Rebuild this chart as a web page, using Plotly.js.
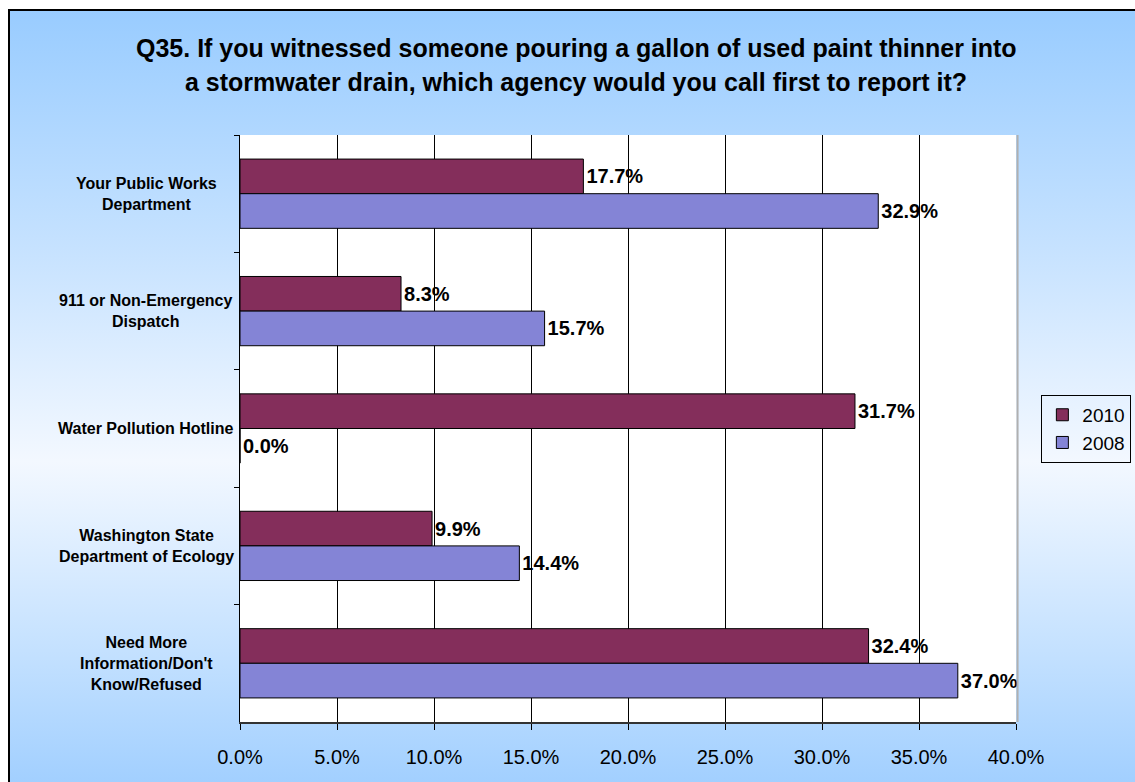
<!DOCTYPE html>
<html>
<head>
<meta charset="utf-8">
<script src="https://cdn.plot.ly/plotly-3.0.1.min.js"></script>
<style>
  html, body { margin: 0; padding: 0; background: #ffffff; }
  #wrap { position: relative; width: 1135px; height: 782px; overflow: hidden; }
  #frame {
    position: absolute; left: 8px; top: 9px; width: 1140px; height: 790px;
    border-left: 2px solid #000; border-top: 2px solid #000;
    background: linear-gradient(to bottom, #99ccff 0%, #c6e2ff 30%, #f3f8ff 57%, #c6e2ff 80%, #9dcdff 100%);
  }
  #chart { position: absolute; left: 0; top: 0; width: 1135px; height: 782px; }
</style>
</head>
<body>
<div id="wrap">
  <div id="frame"></div>
  <div id="chart"></div>
</div>
<script>
const titleLines = [
  "Q35. If you witnessed someone pouring a gallon of used paint thinner into",
  "a stormwater drain, which agency would you call first to report it?"
];
const categories = [
  "Your Public Works Department",
  "911 or Non-Emergency Dispatch",
  "Water Pollution Hotline",
  "Washington State Department of Ecology",
  "Need More Information/Don't Know/Refused"
];
const categoryLabels = [
  "Your Public Works<br>Department",
  "911 or Non-Emergency<br>Dispatch",
  "Water Pollution Hotline",
  "Washington State<br>Department of Ecology",
  "Need More<br>Information/Don't<br>Know/Refused"
];
const seriesNames = ["2010", "2008"];
const values2010 = [17.7, 8.3, 31.7, 9.9, 32.4];
const values2008 = [32.9, 15.7, 0.0, 14.4, 37.0];
const xTickValues = [0, 5, 10, 15, 20, 25, 30, 35, 40];

const FONT = 'Arial, "Liberation Sans", sans-serif';

const traces = [
  {
    type: "bar", orientation: "h", name: seriesNames[0],
    x: values2010, y: categories,
    marker: { color: "#842e5b", line: { color: "#000000", width: 1 } },
    text: values2010.map(v => v.toFixed(1) + "%"),
    textposition: "outside", cliponaxis: false, constraintext: "none",
    textfont: { family: FONT, size: 20, color: "#000000", weight: "bold" },
    hoverinfo: "x+y"
  },
  {
    type: "bar", orientation: "h", name: seriesNames[1],
    x: values2008, y: categories,
    marker: { color: "#8484d6", line: { color: "#000000", width: 1 } },
    text: values2008.map(v => v.toFixed(1) + "%"),
    textposition: "outside", cliponaxis: false, constraintext: "none",
    textfont: { family: FONT, size: 20, color: "#000000", weight: "bold" },
    hoverinfo: "x+y"
  }
];

const annotations = [];
titleLines.forEach((t, i) => {
  annotations.push({
    text: "<b>" + t + "</b>", xref: "paper", yref: "paper",
    x: 0.4335, y: i === 0 ? 1.148 : 1.090, xanchor: "center", yanchor: "middle",
    showarrow: false, font: { family: FONT, size: 25, color: "#000000" }
  });
});
categories.forEach((c, i) => {
  annotations.push({
    text: "<b>" + categoryLabels[i] + "</b>", xref: "paper", yref: "y",
    x: -0.121, y: c, xanchor: "center", yanchor: "middle", align: "center",
    showarrow: false, font: { family: FONT, size: 16, color: "#000000" }
  });
});

const layout = {
  width: 1135, height: 782,
  paper_bgcolor: "rgba(0,0,0,0)", plot_bgcolor: "#ffffff",
  margin: { l: 240, r: 119, t: 135, b: 60 },
  font: { family: FONT, color: "#000000" },
  barmode: "group", bargap: 0.41, bargroupgap: 0,
  showlegend: true,
  legend: {
    xref: "container", yref: "container",
    x: 0.9175, y: 0.495, xanchor: "left", yanchor: "top",
    bgcolor: "rgba(255,255,255,0)", bordercolor: "#000000", borderwidth: 1,
    font: { family: FONT, size: 19, color: "#000000" },
    traceorder: "normal", itemwidth: 30, tracegroupgap: 4
  },
  xaxis: {
    range: [0, 40], tickvals: xTickValues,
    ticktext: xTickValues.map(v => v.toFixed(1) + "%"),
    showgrid: true, gridcolor: "#000000", gridwidth: 1,
    zeroline: false,
    showline: true, linecolor: "#333333", linewidth: 2,
    ticks: "outside", ticklen: 6, tickcolor: "#000000", tickwidth: 1,
    ticklabelstandoff: 10,
    tickfont: { family: FONT, size: 20, color: "#000000" },
    fixedrange: true
  },
  yaxis: {
    autorange: "reversed", type: "category",
    showticklabels: false, showgrid: false, zeroline: false,
    showline: true, linecolor: "#000000", linewidth: 1,
    ticks: "outside", tickson: "boundaries", ticklen: 5, tickcolor: "#000000",
    fixedrange: true
  },
  shapes: [
    { type: "line", xref: "paper", yref: "paper", x0: 1.002, x1: 1.002, y0: 0, y1: 1,
      line: { color: "#b0b0b0", width: 2 } }
  ],
  annotations: annotations
};

Plotly.newPlot("chart", traces, layout, { displayModeBar: false, staticPlot: true });
</script>
</body>
</html>
